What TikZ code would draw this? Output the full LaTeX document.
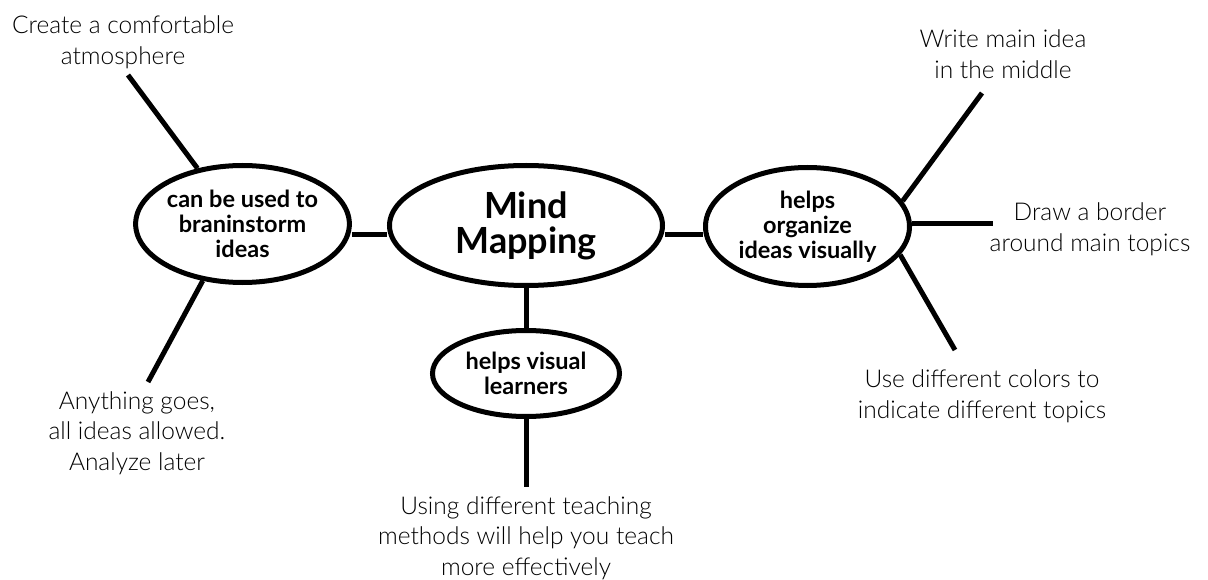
\documentclass[tikz,border=0pt]{standalone}
\usepackage{fontspec}
\setmainfont{Lato}[UprightFont=* Light, BoldFont=* Bold]
\usetikzlibrary{shapes.geometric,backgrounds}
\tikzset{
  bubble/.style={ellipse, draw, line width=5pt, fill=white, inner sep=0pt, align=center, font=\bfseries\fontsize{23.5}{25}\selectfont},
  hub/.style={bubble, font=\bfseries\fontsize{36}{35}\selectfont},
  note/.style={align=center, inner sep=0pt, font=\fontsize{24.5}{30.5}\selectfont},
  link/.style={line width=5pt}
}
\begin{document}
\begin{tikzpicture}[x=1pt, y=-1pt]
\useasboundingbox (0,0) rectangle (1208,580);

% central idea and its three branches
\node[hub, minimum width=273pt, minimum height=120pt] (mind) at (526,225.5) {Mind\\Mapping};
\node[bubble, minimum width=210pt, minimum height=117pt] (lft) at (242.5,224) {can be used to\\braninstorm\\ideas};
\node[bubble, minimum width=204pt, minimum height=118pt] (rgt) at (807.5,226.5) {helps\\organize\\ideas visually};
\node[bubble, minimum width=187pt, minimum height=86pt] (bot) at (526,373.5) {helps visual\\learners};

% leaf notes
\node[note] (n1) at (123,42) {Create a comfortable\\atmosphere};
\node[note] (n2) at (137,433) {Anything goes,\\all ideas allowed.\\Analyze later};
\node[note] (n3) at (1003,54) {Write main idea\\in the middle};
\node[note] (n4) at (1090,229) {Draw a border\\around main topics};
\node[note] (n5) at (982,396) {Use different colors to\\indicate different topics};
\node[note] (n6) at (526,538) {Using different teaching\\methods will help you teach\\more effectively};

% free ends of the spokes
\coordinate (e1) at (128,75);
\coordinate (e2) at (148,382);
\coordinate (e3) at (982,93);
\coordinate (e4) at (993,224);
\coordinate (e5) at (955,350);
\coordinate (e6) at (526,487);

\begin{pgfonlayer}{background}
  \draw[link] ([yshift=-11pt]lft.east) -- ([yshift=-11pt]lft.east -| mind.west);
  \draw[link] ([yshift=-9.5pt]mind.east) -- ([yshift=-9.5pt]mind.east -| rgt.west);
  \draw[link] (mind.south) -- (bot.north);
  \draw[link] (lft.129) -- (e1);
  \draw[link] (lft.235) -- (e2);
  \draw[link] (rgt.15) -- (e3);
  \draw[link] (rgt.east |- e4) -- (e4);
  \draw[link] (rgt.-17) -- (e5);
  \draw[link] (bot.south) -- (e6);
\end{pgfonlayer}
\end{tikzpicture}
\end{document}
